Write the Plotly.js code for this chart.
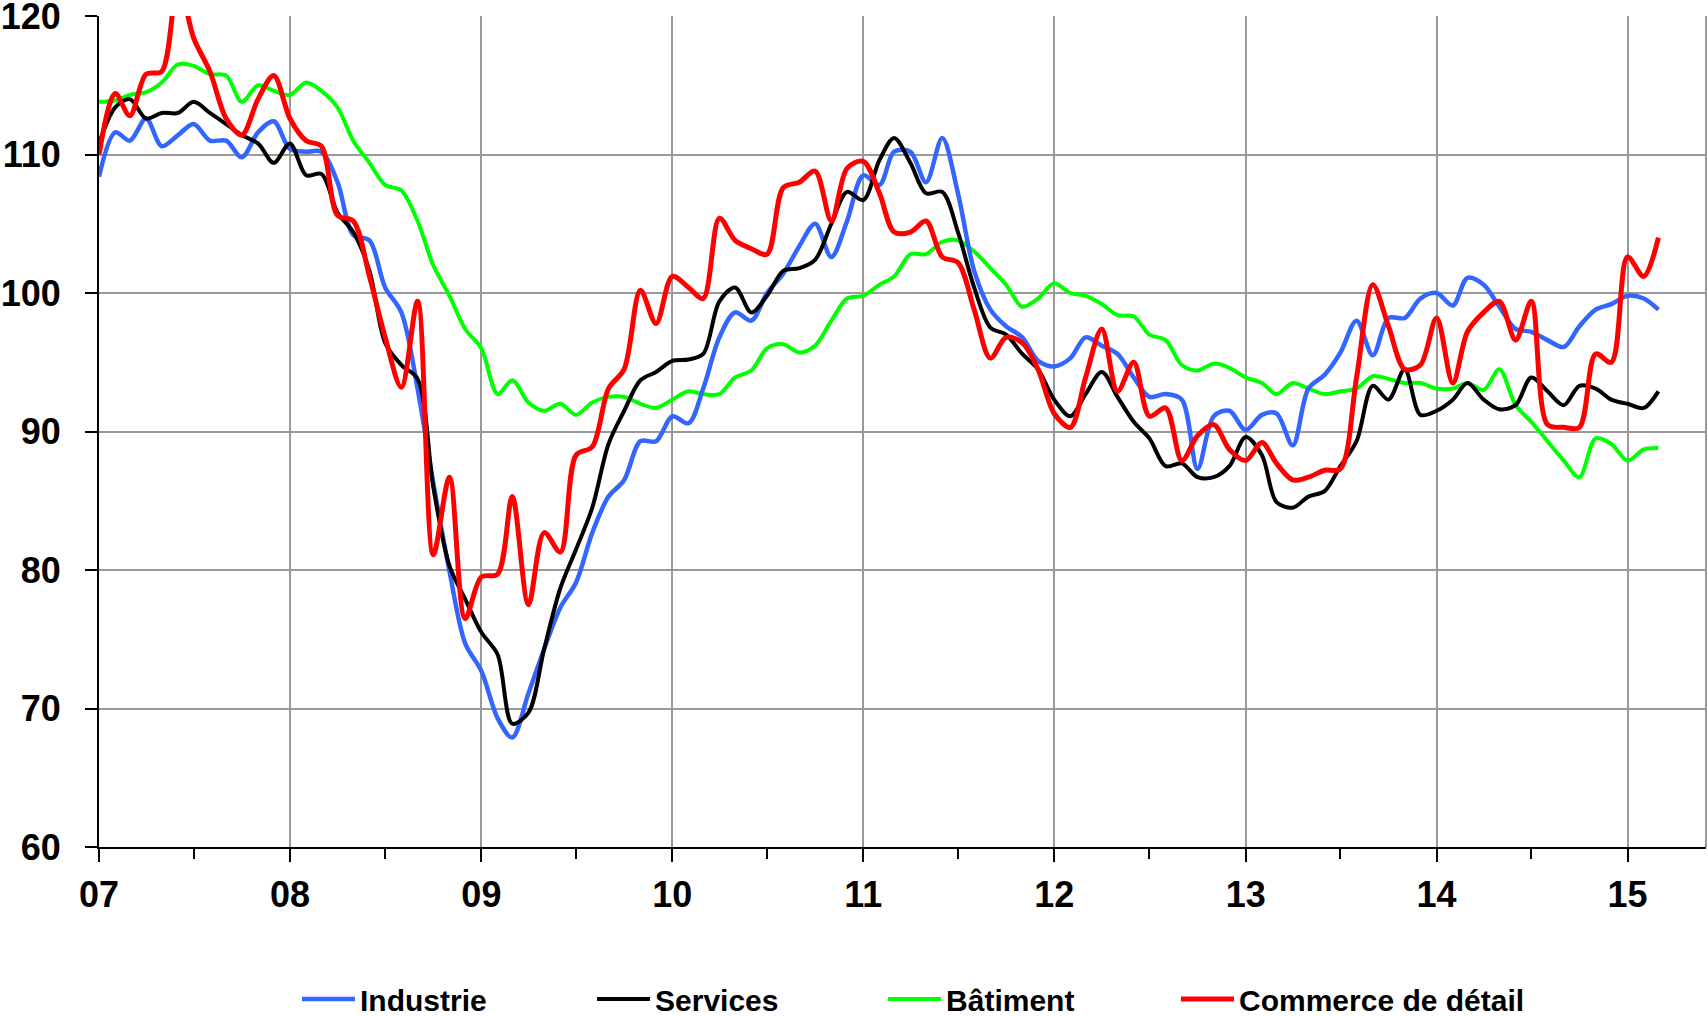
<!DOCTYPE html>
<html>
<head>
<meta charset="utf-8">
<script src="https://cdn.plot.ly/plotly-3.0.1.min.js"></script>
<style>
  html, body { margin: 0; padding: 0; background: #ffffff; }
  #chart { width: 1708px; height: 1016px; }
</style>
</head>
<body>
<div id="chart"></div>
<script>
// Monthly series, January 2007 to March 2015
const startYear = 2007;
const nMonths = 99;

const seriesNames = ["Industrie", "Services", "Bâtiment", "Commerce de détail"];
const seriesColors = ["#3366FF", "#000000", "#00FF00", "#FF0000"];

const industrie = [
  108.4, 111.6, 111.0, 112.6, 110.6, 111.4, 112.2, 111.0, 111.0, 109.8, 111.6, 112.4,
  110.4, 110.2, 110.2, 108.0, 104.2, 103.8, 100.4, 98.6, 93.1, 86.3, 79.9, 74.7,
  72.7, 69.3, 67.9, 71.1, 74.3, 77.3, 79.1, 82.7, 85.3, 86.5, 89.3, 89.3,
  91.1, 90.6, 93.1, 96.8, 98.6, 98.0, 100.0, 101.4, 103.4, 105.0, 102.6, 105.2,
  108.5, 107.8, 110.2, 110.2, 108.0, 111.2, 107.2, 101.6, 98.8, 97.6, 96.8, 95.1,
  94.7, 95.3, 96.8, 96.2, 95.6, 93.9, 92.5, 92.7, 92.3, 87.3, 91.1, 91.5,
  90.1, 91.2, 91.3, 89.0, 93.1, 94.1, 95.7, 98.0, 95.5, 98.2, 98.2, 99.6,
  100.0, 99.1, 101.1, 100.6, 99.0, 97.4, 97.2, 96.6, 96.1, 97.6, 98.8, 99.2,
  99.8, 99.6, 98.8
];

const services = [
  110.8, 113.4, 114.0, 112.6, 113.0, 113.0, 113.8, 113.0, 112.2, 111.4, 110.8, 109.4,
  110.8, 108.5, 108.6, 105.8, 104.4, 101.6, 96.4, 94.8, 93.8, 86.0, 80.3, 77.9,
  75.5, 73.9, 68.9, 69.7, 74.3, 78.7, 81.5, 84.5, 89.1, 91.5, 93.7, 94.3,
  95.1, 95.2, 95.6, 99.4, 100.4, 98.6, 99.8, 101.6, 101.8, 102.4, 105.0, 107.3,
  106.7, 109.6, 111.2, 109.4, 107.2, 107.3, 104.4, 100.4, 97.5, 97.0, 95.6, 94.5,
  92.3, 91.1, 92.7, 94.3, 92.5, 90.7, 89.5, 87.5, 87.7, 86.7, 86.7, 87.5,
  89.6, 88.3, 84.9, 84.5, 85.3, 85.7, 87.5, 89.3, 93.3, 92.3, 94.5, 91.2,
  91.5, 92.3, 93.5, 92.3, 91.6, 91.9, 93.9, 92.9, 91.9, 93.3, 93.1, 92.3,
  92.0, 91.7, 92.9
];

const batiment = [
  113.8, 113.9, 114.3, 114.5, 115.2, 116.5, 116.4, 115.8, 115.7, 113.8, 115.0, 114.6,
  114.3, 115.2, 114.6, 113.4, 111.0, 109.4, 107.8, 107.4, 105.2, 102.0, 99.8, 97.4,
  96.0, 92.7, 93.7, 92.1, 91.5, 92.0, 91.2, 92.1, 92.5, 92.5, 92.0, 91.7,
  92.3, 92.9, 92.7, 92.7, 93.9, 94.4, 96.0, 96.3, 95.7, 96.2, 98.0, 99.6,
  99.8, 100.6, 101.2, 102.8, 102.8, 103.7, 103.8, 103.0, 101.8, 100.6, 99.0, 99.6,
  100.7, 100.0, 99.8, 99.2, 98.4, 98.3, 97.0, 96.6, 94.8, 94.4, 94.9, 94.6,
  93.9, 93.5, 92.7, 93.5, 93.1, 92.7, 92.9, 93.1, 94.0, 93.8, 93.5, 93.5,
  93.1, 93.1, 93.5, 93.0, 94.5, 91.9, 90.7, 89.3, 87.9, 86.7, 89.5, 89.1,
  87.9, 88.7, 88.8
];

const commerce = [
  110.0, 114.4, 112.8, 115.8, 116.0, 122.5, 118.4, 116.0, 112.6, 111.4, 114.0, 115.7,
  112.6, 111.0, 110.6, 105.6, 105.2, 101.2, 96.8, 93.2, 99.4, 81.1, 86.7, 76.5,
  79.5, 79.7, 85.3, 77.5, 82.7, 81.3, 88.3, 88.9, 93.1, 94.5, 100.2, 97.8,
  101.2, 100.4, 99.6, 105.4, 103.8, 103.2, 102.8, 107.6, 108.0, 108.8, 105.2, 109.0,
  109.5, 107.2, 104.4, 104.4, 105.2, 102.6, 102.2, 98.8, 95.3, 96.8, 96.4, 94.5,
  91.3, 90.3, 93.9, 97.4, 92.9, 95.0, 91.1, 91.7, 87.9, 89.7, 90.5, 88.7,
  87.9, 89.2, 87.7, 86.5, 86.7, 87.2, 87.3, 93.9, 100.6, 97.6, 94.5, 94.8,
  98.2, 93.5, 97.2, 98.6, 99.4, 96.6, 99.4, 90.5, 90.3, 90.3, 95.6, 95.0,
  102.6, 101.2, 104.0
];

const yTickVals = [60, 70, 80, 90, 100, 110, 120];

// month dates
const dates = [];
for (let i = 0; i < nMonths; i++) {
  const y = startYear + Math.floor(i / 12);
  const m = (i % 12) + 1;
  dates.push(y + "-" + (m < 10 ? "0" + m : m) + "-01");
}

const allSeries = [industrie, services, batiment, commerce];
const widths = [4.5, 4, 4, 5];
const legendIds = ["legend", "legend2", "legend3", "legend4"];

const traces = allSeries.map((vals, k) => ({
  type: "scatter",
  mode: "lines",
  x: dates,
  y: vals,
  name: seriesNames[k],
  line: { color: seriesColors[k], width: widths[k], shape: "spline", smoothing: 0.9 },
  legend: legendIds[k],
  hoverinfo: "x+y+name"
}));

// draw order: green, blue, black, red on top
const ordered = [traces[2], traces[0], traces[1], traces[3]];

const fontFam = "'Liberation Sans', Arial, sans-serif";
const legendFont = { family: fontFam, size: 30, color: "#000000", weight: "bold" };
const legendY = 0.0167;
const legendXs = [0.1232, 0.3068, 0.4879, 0.6702];

const layout = {
  width: 1708,
  height: 1016,
  margin: { l: 99, r: 2, t: 16, b: 169, autoexpand: false },
  paper_bgcolor: "#ffffff",
  plot_bgcolor: "#ffffff",
  showlegend: true,
  xaxis: {
    type: "date",
    range: ["2007-01-01", "2015-05-31"],
    tickmode: "linear",
    tick0: "2007-01-01",
    dtick: "M12",
    tickformat: "%y",
    showgrid: true,
    gridcolor: "#999999",
    gridwidth: 2,
    showline: true,
    linecolor: "#000000",
    linewidth: 2,
    ticks: "outside",
    ticklen: 13,
    tickwidth: 2,
    tickcolor: "#000000",
    ticklabelstandoff: 2,
    ticklabeloverflow: "allow",
    automargin: false,
    tickfont: { family: fontFam, size: 36, color: "#000000", weight: "bold" },
    minor: {
      tickmode: "linear",
      tick0: "2007-07-01",
      dtick: "M12",
      ticks: "outside",
      ticklen: 10,
      tickwidth: 2,
      tickcolor: "#000000",
      showgrid: false
    },
    zeroline: false,
    fixedrange: true
  },
  yaxis: {
    range: [60, 120],
    tickmode: "array",
    tickvals: yTickVals,
    ticktext: yTickVals.map(String),
    showgrid: true,
    gridcolor: "#999999",
    gridwidth: 2,
    showline: true,
    linecolor: "#000000",
    linewidth: 2,
    ticks: "outside",
    ticklen: 12,
    tickwidth: 2,
    tickcolor: "#000000",
    ticklabelstandoff: 17,
    ticklabeloverflow: "allow",
    automargin: false,
    tickfont: { family: fontFam, size: 36, color: "#000000", weight: "bold" },
    zeroline: false,
    fixedrange: true
  },
  shapes: [
    { type: "line", xref: "paper", yref: "paper", x0: 1, x1: 1, y0: 0, y1: 1,
      line: { color: "#999999", width: 2 }, layer: "below" }
  ]
};

legendIds.forEach((id, k) => {
  layout[id] = {
    x: legendXs[k], xanchor: "left",
    y: legendY, yanchor: "middle", yref: "container",
    orientation: "h",
    font: legendFont,
    bgcolor: "rgba(0,0,0,0)",
    borderwidth: 0,
    itemwidth: 53
  };
});

Plotly.newPlot("chart", ordered, layout, { staticPlot: true, displayModeBar: false });
</script>
</body>
</html>
